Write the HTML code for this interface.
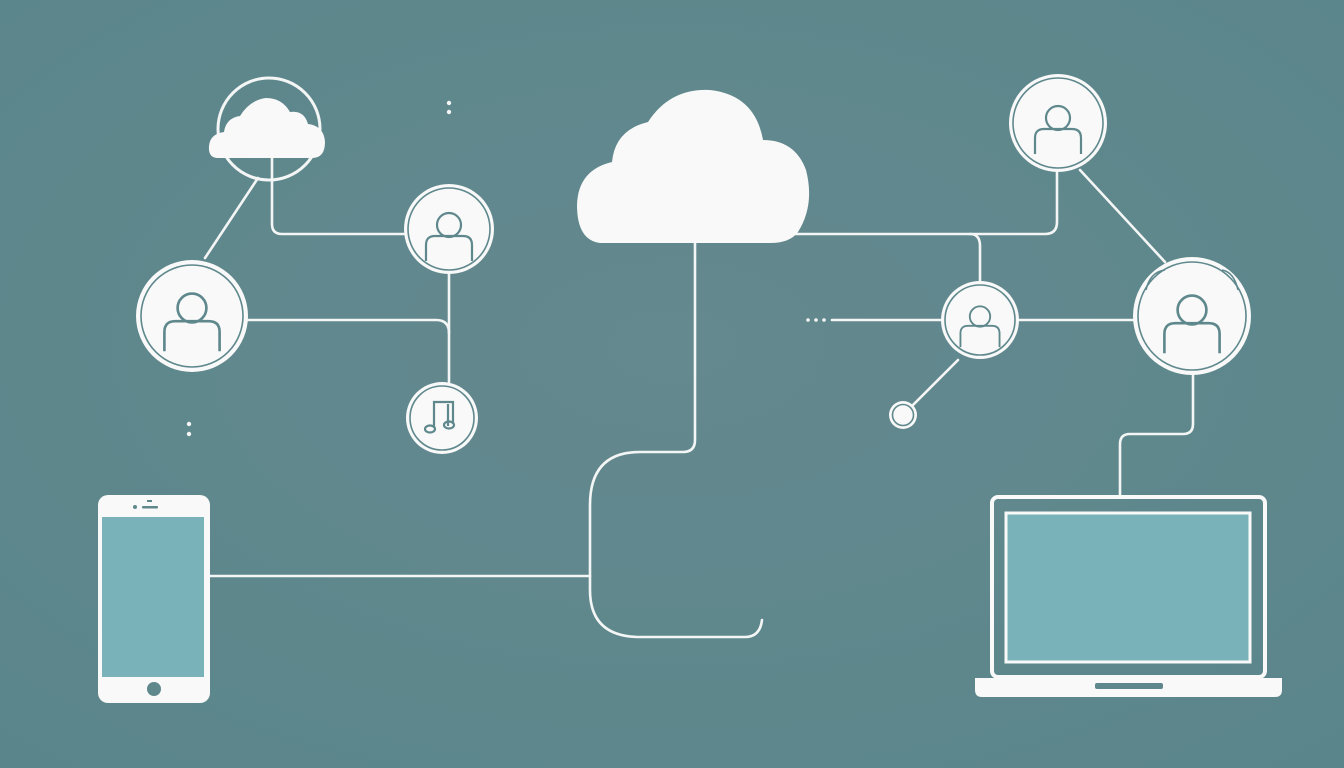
<!DOCTYPE html>
<html><head><meta charset="utf-8"><style>
html,body{margin:0;padding:0;background:#5f898e;}
svg{display:block}
</style></head><body>
<svg width="1344" height="768" viewBox="0 0 1344 768" xmlns="http://www.w3.org/2000/svg">
<defs>
<radialGradient id="bg" cx="50%" cy="45%" r="75%"><stop offset="0" stop-color="#64898f"/><stop offset="1" stop-color="#5a868b"/></radialGradient>
<g id="person">
<circle cx="0" cy="-10" r="12" fill="none" stroke="#5f888d" stroke-width="2.2"/>
<path d="M-23 26 V10 Q-23 1 -14 1 H14 Q23 1 23 10 V26" fill="none" stroke="#5f888d" stroke-width="2.2"/>
</g>
</defs>
<rect width="1344" height="768" fill="url(#bg)"/>
<g fill="none" stroke="#f4f6f5" stroke-width="2.6" stroke-linecap="round">
<!-- left network -->
<path d="M258 178 L205 258"/>
<path d="M272 158 V224 Q272 234 282 234 H405"/>
<path d="M248 320 H436 Q449 320 449 333"/>
<path d="M449 273 V384"/>
<!-- center -->
<path d="M695 243 V440 Q695 452 683 452 H640 Q590 452 590 505 V590 Q590 637 640 637 H745 Q760 637 762 620"/>
<path d="M208 576 H590"/>
<!-- right -->
<path d="M790 234 H1045 Q1057 234 1057 222 V172"/>
<path d="M970 234 Q980 234 980 246 V282"/>
<path d="M832 320 H942"/>
<path d="M1018 320 H1135"/>
<path d="M1080 170 L1165 262"/>
<path d="M958 360 L913 405"/>
<path d="M1193 374 V424 Q1193 434 1183 434 H1130 Q1120 434 1120 444 V497"/>
</g>
<g fill="#f4f6f5">
<circle cx="449" cy="103" r="2.2"/><circle cx="449" cy="112" r="2.2"/>
<circle cx="189" cy="424" r="2.2"/><circle cx="189" cy="434" r="2.2"/>
<circle cx="808" cy="320" r="1.8"/><circle cx="816" cy="320" r="1.8"/><circle cx="824" cy="320" r="1.8"/>
</g>
<!-- top-left cloud circle -->
<circle cx="269" cy="129" r="51" fill="none" stroke="#f4f6f5" stroke-width="3"/>
<g fill="#f8f9f8">
<path d="M218 158 Q208 158 209 146 Q210 134 224 132 Q226 118 240 116 Q250 100 266 98 Q282 98 290 112 Q304 110 308 124 Q324 126 325 142 Q325 158 312 158 Z"/>
</g>
<!-- left person circles -->
<circle cx="192" cy="316" r="56" fill="#f8f9f8"/><circle cx="192" cy="316" r="51" fill="none" stroke="#5f888d" stroke-width="1.6"/>
<g transform="translate(192,320) scale(1.2)"><use href="#person"/></g>
<circle cx="449" cy="229" r="45" fill="#f8f9f8"/><circle cx="449" cy="229" r="41" fill="none" stroke="#5f888d" stroke-width="1.6"/>
<use href="#person" transform="translate(449,235)"/>
<circle cx="442" cy="418" r="36" fill="#f8f9f8"/><circle cx="442" cy="418" r="32" fill="none" stroke="#5f888d" stroke-width="1.6"/>
<g fill="none" stroke="#5f888d" stroke-width="2.2">
<path d="M434 428 V402 H453 V424"/><path d="M448 404 V426"/>
<ellipse cx="430" cy="429" rx="5" ry="3.5"/><ellipse cx="449" cy="425" rx="5" ry="3.5"/>
</g>
<!-- big cloud -->
<path d="M600 243 Q577 240 577 205 Q578 170 612 162 Q615 130 648 122 Q670 88 710 90 Q755 95 763 140 Q795 140 806 170 Q815 205 798 232 Q790 243 770 243 Z" fill="#f8f9f8"/>
<!-- right circles -->
<circle cx="1058" cy="123" r="49" fill="#f8f9f8"/><circle cx="1058" cy="123" r="45" fill="none" stroke="#5f888d" stroke-width="1.6"/>
<use href="#person" transform="translate(1058,128)"/>
<circle cx="980" cy="320" r="39" fill="#f8f9f8"/><circle cx="980" cy="320" r="35" fill="none" stroke="#5f888d" stroke-width="1.6"/>
<g transform="translate(980,325) scale(0.85)"><use href="#person"/></g>
<circle cx="1192" cy="316" r="59" fill="#f8f9f8"/><circle cx="1192" cy="316" r="54" fill="none" stroke="#5f888d" stroke-width="1.6"/>
<path d="M1146 290 Q1150 272 1165 270 M1238 290 Q1234 272 1222 270" fill="none" stroke="#5f888d" stroke-width="1.6"/>
<g transform="translate(1192,322) scale(1.2)"><use href="#person"/></g>
<circle cx="903" cy="415" r="14" fill="#f8f9f8"/><circle cx="903" cy="415" r="10.5" fill="none" stroke="#5f888d" stroke-width="1.6"/>
<!-- phone -->
<rect x="98" y="495" width="112" height="208" rx="10" fill="#f8f9f8"/>
<rect x="102" y="517" width="102" height="160" fill="#7ab2ba"/>
<circle cx="154" cy="689" r="7" fill="#5f888d"/>
<circle cx="135" cy="507" r="2" fill="#5f888d"/><rect x="142" y="506" width="16" height="2.5" rx="1" fill="#5f888d"/><rect x="147" y="500" width="5" height="2" fill="#5f888d"/>
<!-- laptop -->
<rect x="992" y="497" width="273" height="180" rx="6" fill="none" stroke="#f8f9f8" stroke-width="4"/>
<rect x="1006" y="513" width="244" height="149" fill="#7ab2ba" stroke="#f8f9f8" stroke-width="3"/>
<path d="M975 678 H1282 V690 Q1282 697 1275 697 H982 Q975 697 975 690 Z" fill="#f8f9f8"/>
<rect x="1095" y="683" width="68" height="6" rx="2" fill="#5f888d"/>
</svg>
</body></html>
